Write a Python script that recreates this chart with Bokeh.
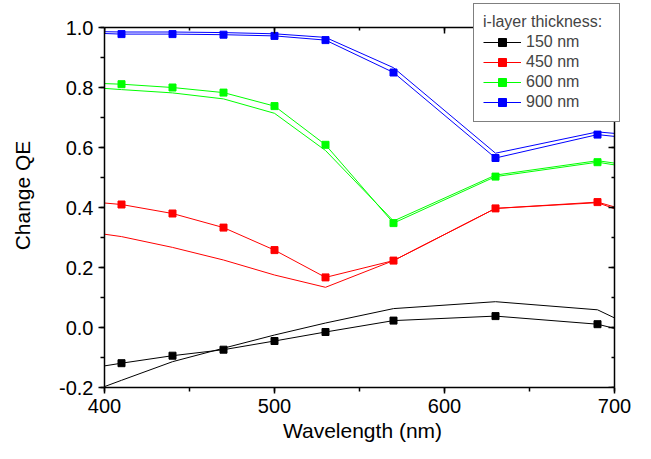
from bokeh.plotting import figure
from bokeh.models import (Range1d, LinearAxis, SingleIntervalTicker, PrintfTickFormatter,
                          Legend, LegendItem)
from bokeh.embed import file_html
from bokeh.resources import INLINE

# ---- data ----
wavelength = [400, 410, 440, 470, 500, 530, 570, 630, 690, 700]
marker_idx = slice(1, 9)  # measured points (410 ... 690)

thickness_labels = ["150 nm", "450 nm", "600 nm", "900 nm"]
colors = ["#000000", "#ff0000", "#00ff00", "#0000ff"]

meas_150 = [-0.128, -0.119, -0.094, -0.074, -0.045, -0.015, 0.023, 0.038, 0.011, -0.003]
sim_150 = [-0.197, -0.176, -0.114, -0.069, -0.025, 0.015, 0.063, 0.086, 0.059, 0.032]

meas_450 = [0.415, 0.410, 0.380, 0.333, 0.258, 0.167, 0.223, 0.397, 0.418, 0.402]
sim_450 = [0.311, 0.303, 0.267, 0.225, 0.175, 0.134, 0.223, 0.397, 0.416, 0.396]

meas_600 = [0.813, 0.811, 0.800, 0.783, 0.738, 0.609, 0.348, 0.503, 0.551, 0.542]
sim_600 = [0.797, 0.793, 0.782, 0.762, 0.714, 0.590, 0.355, 0.508, 0.556, 0.548]

meas_900 = [0.980, 0.978, 0.978, 0.976, 0.972, 0.958, 0.850, 0.565, 0.643, 0.637]
sim_900 = [0.986, 0.985, 0.985, 0.983, 0.979, 0.967, 0.866, 0.581, 0.652, 0.647]

measured = [meas_150, meas_450, meas_600, meas_900]
simulated = [sim_150, sim_450, sim_600, sim_900]

x_min, x_max = 400, 700
y_min, y_max = -0.2, 1.0
x_ticks_interval = 100
y_ticks_interval = 0.2

FONT = "Liberation Sans"

# layout in pixels
W, H = 635, 451
FRAME_L, FRAME_R, FRAME_T, FRAME_B = 104, 620, 3, 387
AXIS_R, AXIS_T = 614, 27           # where x=700 and y=1.0 sit
px_per_x = (AXIS_R - FRAME_L) / (x_max - x_min)
px_per_y = (FRAME_B - AXIS_T) / (y_max - y_min)
x_end = x_max + (FRAME_R - AXIS_R) / px_per_x
y_end = y_max + (AXIS_T - FRAME_T) / px_per_y

p = figure(width=W, height=H, output_backend="svg", toolbar_location=None,
           x_range=Range1d(x_min, x_end), y_range=Range1d(y_min, y_end),
           min_border_left=FRAME_L, min_border_right=W - FRAME_R,
           min_border_top=FRAME_T, min_border_bottom=H - FRAME_B)
p.xgrid.visible = False
p.ygrid.visible = False
p.outline_line_color = None
p.background_fill_color = "white"
p.border_fill_color = "white"

bottom_axis = p.below[0]
left_axis = p.left[0]

items = []
for lab, col, meas, sim in zip(thickness_labels, colors, measured, simulated):
    p.line(wavelength, sim, line_color=col, line_width=1)
    lr = p.line(wavelength, meas, line_color=col, line_width=1)
    sr = p.scatter(wavelength[marker_idx], meas[marker_idx], marker="square", size=7,
                   fill_color=col, line_color=col)
    items.append(LegendItem(label=lab, renderers=[lr, sr]))

top_axis = LinearAxis(fixed_location=y_max)
right_axis = LinearAxis(fixed_location=x_max)
p.add_layout(top_axis, "above")
p.add_layout(right_axis, "right")


def style_axis(ax, interval, inside, bounds, fmt=None):
    ax.ticker = SingleIntervalTicker(interval=interval, num_minor_ticks=2)
    ax.bounds = bounds
    ax.axis_line_width = 1.5
    ax.axis_line_color = "black"
    ax.major_tick_line_width = 1.5
    ax.minor_tick_line_width = 1.5
    ax.major_tick_line_color = "black"
    ax.minor_tick_line_color = "black"
    if inside:
        ax.major_tick_in = 6
        ax.major_tick_out = 0
        ax.minor_tick_in = 3
        ax.minor_tick_out = 0
        ax.major_label_text_font_size = "1px"
        ax.major_label_text_color = None
        ax.major_label_standoff = 0
    else:
        ax.major_tick_in = 0
        ax.major_tick_out = 6
        ax.minor_tick_in = 0
        ax.minor_tick_out = 4
        ax.major_label_text_font = FONT
        ax.major_label_text_font_size = "20px"
        ax.major_label_text_color = "black"
        ax.major_label_standoff = 5
        if fmt is not None:
            ax.formatter = fmt


style_axis(bottom_axis, x_ticks_interval, False, (x_min, x_max))
style_axis(left_axis, y_ticks_interval, False, (y_min, y_max), PrintfTickFormatter(format="%.1f"))
style_axis(top_axis, x_ticks_interval, True, (x_min, x_max))
style_axis(right_axis, y_ticks_interval, True, (y_min, y_max))

bottom_axis.axis_label = "Wavelength (nm)"
left_axis.axis_label = "Change QE"
for ax in (bottom_axis, left_axis):
    ax.axis_label_text_font = FONT
    ax.axis_label_text_font_size = "21px"
    ax.axis_label_text_font_style = "normal"
    ax.axis_label_text_color = "black"
bottom_axis.axis_label_standoff = 3
left_axis.axis_label_standoff = 22

legend = Legend(items=items, title="i-layer thickness:", location="top_right",
                title_text_font=FONT, title_text_font_size="16px",
                title_text_font_style="normal", title_standoff=1,
                label_text_font=FONT, label_text_font_size="16px",
                glyph_width=38, glyph_height=20, label_height=20, label_width=84,
                label_standoff=5, spacing=0, padding=9, margin=0,
                border_line_color="black", border_line_width=1.5,
                background_fill_color="white", background_fill_alpha=1.0)
p.add_layout(legend)

open("out.html", "w").write(file_html(p, INLINE))
